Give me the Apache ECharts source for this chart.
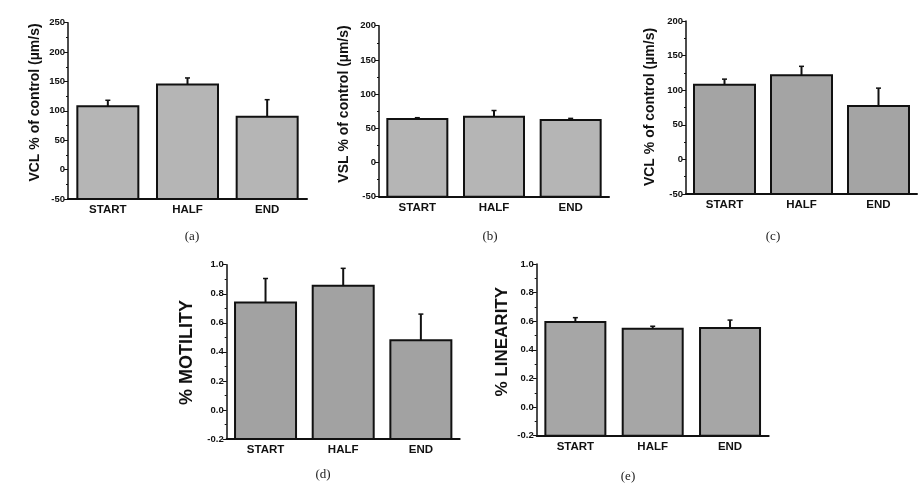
<!DOCTYPE html>
<html>
<head>
<meta charset="utf-8">
<script src="https://cdn.jsdelivr.net/npm/echarts@6/dist/echarts.min.js"></script>
<style>html,body{margin:0;padding:0;background:#fff}#c{width:921px;height:484px}</style>
</head>
<body>
<div id="c"></div>
<script>
// ---- data ----
var categories = ['START', 'HALF', 'END'];
var vclA = [108, 145, 90];
var vclAErr = [10, 11, 29];
var vslB = [63.5, 67, 62];
var vslBErr = [2, 9, 2.5];
var vclC = [108, 121.5, 77];
var vclCErr = [8, 13, 26];
var motD = [0.74, 0.855, 0.48];
var motDErr = [0.165, 0.12, 0.18];
var linE = [0.595, 0.548, 0.553];
var linEErr = [0.03, 0.017, 0.055];
var titles = ['VCL % of control (\u00b5m/s)', 'VSL % of control (\u00b5m/s)', 'VCL % of control (\u00b5m/s)', '% MOTILITY', '% LINEARITY'];
var captions = ['(a)', '(b)', '(c)', '(d)', '(e)'];

var panels = [
  {vals: vclA, err: vclAErr, min: -50, max: 250, interval: 50, dec: 0, color: '#b5b5b5',
   grid: {left: 68, top: 22.7, width: 239, height: 176.3}, bw: 61,
   title: {x: 35.5, y: 102.5, size: 14}, cap: {x: 192, y: 237}},
  {vals: vslB, err: vslBErr, min: -50, max: 200, interval: 50, dec: 0, color: '#b5b5b5',
   grid: {left: 379, top: 25.7, width: 230, height: 171}, bw: 60,
   title: {x: 344, y: 104, size: 14}, cap: {x: 490, y: 237}},
  {vals: vclC, err: vclCErr, min: -50, max: 200, interval: 50, dec: 0, color: '#a4a4a4',
   grid: {left: 686, top: 21, width: 231, height: 173}, bw: 61,
   title: {x: 650, y: 107, size: 14}, cap: {x: 773, y: 237}},
  {vals: motD, err: motDErr, min: -0.2, max: 1.0, interval: 0.2, dec: 1, color: '#a2a2a2',
   grid: {left: 226.7, top: 264.7, width: 233, height: 174.3}, bw: 61,
   title: {x: 186.7, y: 352.5, size: 18}, cap: {x: 323, y: 475}},
  {vals: linE, err: linEErr, min: -0.2, max: 1.0, interval: 0.2, dec: 1, color: '#a6a6a6',
   grid: {left: 536.7, top: 264, width: 232, height: 171.7}, bw: 60,
   title: {x: 502, y: 341.7, size: 17}, cap: {x: 628, y: 476.5}}
];

var FONT = '"Liberation Sans", Arial, sans-serif';
var grids = [], xAxes = [], yAxes = [], series = [], graphics = [];

panels.forEach(function (p, i) {
  grids.push(Object.assign({containLabel: false}, p.grid));
  xAxes.push({
    type: 'category', gridIndex: i, data: categories, boundaryGap: true,
    axisLine: {onZero: false, lineStyle: {color: '#111', width: 2}},
    axisTick: {show: false},
    axisLabel: {fontFamily: FONT, fontWeight: 'bold', fontSize: 11.5, color: '#111', margin: 5}
  });
  yAxes.push({
    type: 'value', gridIndex: i, min: p.min, max: p.max, interval: p.interval,
    axisLine: {show: true, lineStyle: {color: '#111', width: 1.5}},
    axisTick: {show: true, length: 4, lineStyle: {color: '#111', width: 1}},
    minorTick: {show: true, splitNumber: 2, length: 2, lineStyle: {color: '#111', width: 1}},
    splitLine: {show: false},
    axisLabel: {fontFamily: FONT, fontWeight: 'bold', fontSize: 9.5, color: '#111', margin: 3,
      formatter: function (v) { return p.dec ? v.toFixed(1) : String(Math.round(v)); }}
  });
  // bars drawn from the axis bottom (min) up to the value
  series.push({
    type: 'custom', xAxisIndex: i, yAxisIndex: i, z: 2, silent: true,
    data: p.vals.map(function (v, k) { return [k, v]; }),
    encode: {x: 0, y: 1},
    renderItem: function (params, api) {
      var k = api.value(0), v = api.value(1);
      var top = api.coord([k, v]);
      var base = api.coord([k, p.min]);
      return {
        type: 'rect',
        shape: {x: top[0] - p.bw / 2, y: top[1], width: p.bw, height: base[1] - top[1]},
        style: {fill: p.color, stroke: '#111', lineWidth: 2}
      };
    }
  });
  series.push({
    type: 'custom', xAxisIndex: i, yAxisIndex: i, z: 3, silent: true,
    data: p.vals.map(function (v, k) { return [k, v, p.err[k]]; }),
    encode: {x: 0, y: 1},
    renderItem: function (params, api) {
      var k = api.value(0), v = api.value(1), e = api.value(2);
      var a = api.coord([k, v]);
      var b = api.coord([k, v + e]);
      return {
        type: 'group',
        children: [
          {type: 'line', shape: {x1: a[0], y1: a[1], x2: b[0], y2: b[1]}, style: {stroke: '#111', lineWidth: 2}},
          {type: 'line', shape: {x1: b[0] - 2.5, y1: b[1], x2: b[0] + 2.5, y2: b[1]}, style: {stroke: '#111', lineWidth: 1.5}}
        ]
      };
    }
  });
  graphics.push({
    type: 'text', x: p.title.x, y: p.title.y, rotation: Math.PI / 2,
    style: {text: titles[i], font: 'bold ' + p.title.size + 'px ' + FONT, fill: '#111', align: 'center', verticalAlign: 'middle'}
  });
  graphics.push({
    type: 'text', x: p.cap.x, y: p.cap.y,
    style: {text: captions[i], font: '13px "Liberation Serif", "Times New Roman", serif', fill: '#222', align: 'center', verticalAlign: 'middle'}
  });
});

var chart = echarts.init(document.getElementById('c'), null, {renderer: 'canvas'});
chart.setOption({
  animation: false,
  backgroundColor: '#fff',
  grid: grids, xAxis: xAxes, yAxis: yAxes, series: series, graphic: graphics
});
</script>
</body>
</html>
